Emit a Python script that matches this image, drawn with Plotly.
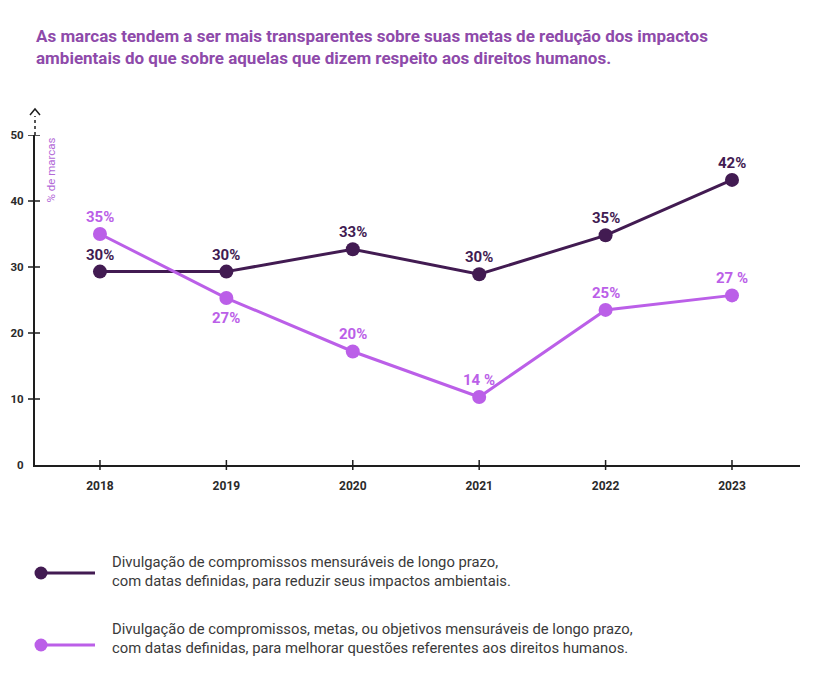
import plotly.graph_objects as go

years = [2018, 2019, 2020, 2021, 2022, 2023]
year_labels = ["2018", "2019", "2020", "2021", "2022", "2023"]
ambientais = [29.3, 29.3, 32.7, 28.9, 34.8, 43.2]
ambientais_labels = ["30%", "30%", "33%", "30%", "35%", "42%"]
direitos = [35.0, 25.3, 17.2, 10.3, 23.5, 25.7]
direitos_labels = ["35%", "27%", "20%", "14 %", "25%", "27 %"]
direitos_below = [False, True, False, False, False, False]
y_ticks = [0, 10, 20, 30, 40, 50]
legend_texts = [
    "Divulgação de compromissos mensuráveis de longo prazo,<br>"
    "com datas definidas, para reduzir seus impactos ambientais.",
    "Divulgação de compromissos, metas, ou objetivos mensuráveis de longo prazo,<br>"
    "com datas definidas, para melhorar questões referentes aos direitos humanos.",
]
title_text = ("As marcas tendem a ser mais transparentes sobre suas metas de redução dos impactos<br>"
              "ambientais do que sobre aquelas que dizem respeito aos direitos humanos.")

DARK = "#421B52"
LIGHT = "#BB5FE8"
TITLE_C = "#8E4AAA"
AXIS_C = "#1E1E1E"
BOLD_FONT = "Roboto, sans-serif"
TEXT_FONT = "Roboto, sans-serif"

# plot area in pixels (figure is placed with an 8px page offset)
W, H = 820, 684
L, R, T, B = 27, 28, 127, 227
PW = W - L - R
PH = H - T - B


def px_y(py_page):
    """page pixel y -> paper y"""
    return (8 + T + PH - py_page) / PH


def px_x(px_page):
    return (px_page - 8 - L) / PW


fig = go.Figure()
fig.add_trace(go.Scatter(
    x=years, y=ambientais, mode="lines+markers",
    line=dict(color=DARK, width=3), marker=dict(color=DARK, size=14),
    showlegend=False, cliponaxis=False, hoverinfo="skip"))
fig.add_trace(go.Scatter(
    x=years, y=direitos, mode="lines+markers",
    line=dict(color=LIGHT, width=3), marker=dict(color=LIGHT, size=14),
    showlegend=False, cliponaxis=False, hoverinfo="skip"))

annotations = []
for x, y, t in zip(years, ambientais, ambientais_labels):
    annotations.append(dict(x=x, y=y, xref="x", yref="y", text=t, showarrow=False,
                            yshift=17, font=dict(family=BOLD_FONT, size=15, color=DARK, weight="bold")))
for x, y, t, below in zip(years, direitos, direitos_labels, direitos_below):
    annotations.append(dict(x=x, y=y, xref="x", yref="y", text=t, showarrow=False,
                            yshift=-20 if below else 17,
                            font=dict(family=BOLD_FONT, size=15, color=LIGHT, weight="bold")))

shapes = []
for v in y_ticks[1:]:
    shapes.append(dict(type="line", xref="paper", xsizemode="pixel", xanchor=0,
                       x0=-7, x1=5, yref="y", y0=v, y1=v,
                       line=dict(color=AXIS_C, width=1.5)))
for yr in years:
    shapes.append(dict(type="line", xref="x", x0=yr, x1=yr, yref="paper",
                       ysizemode="pixel", yanchor=0, y0=-5, y1=5,
                       line=dict(color=AXIS_C, width=1.5)))
shapes.append(dict(type="line", xref="paper", x0=0, x1=0, yref="paper",
                   ysizemode="pixel", yanchor=1, y0=0, y1=19,
                   line=dict(color=AXIS_C, width=1.5, dash="dot")))
shapes.append(dict(type="path", xref="paper", xsizemode="pixel", xanchor=0,
                   yref="paper", ysizemode="pixel", yanchor=1,
                   path="M -5,20 L 0,26 L 5,20",
                   line=dict(color=AXIS_C, width=1.5)))

# manual legend
legend_marker_y = [573, 645]
legend_text_y = [571.5, 638.5]
for my, col, txt, ty in zip(legend_marker_y, [DARK, LIGHT], legend_texts, legend_text_y):
    yy = px_y(my)
    shapes.append(dict(type="line", xref="paper", x0=px_x(41), x1=px_x(95),
                       yref="paper", y0=yy, y1=yy, line=dict(color=col, width=3)))
    shapes.append(dict(type="circle", xref="paper", xsizemode="pixel", xanchor=px_x(41),
                       x0=-6.5, x1=6.5, yref="paper", ysizemode="pixel", yanchor=yy,
                       y0=-6.5, y1=6.5, fillcolor=col, line=dict(color=col, width=0)))
    annotations.append(dict(text=txt, xref="paper", yref="paper", x=px_x(110),
                            y=px_y(ty), xanchor="left", yanchor="middle", align="left",
                            showarrow=False,
                            font=dict(family=TEXT_FONT, size=14.8, color="#3A3A3A")))

annotations.append(dict(text=title_text, xref="paper", yref="paper", x=px_x(34),
                        y=px_y(47), xanchor="left", yanchor="middle", align="left",
                        showarrow=False,
                        font=dict(family=TEXT_FONT, size=17, color=TITLE_C, weight="bold")))

annotations.append(dict(text="% de marcas", xref="paper", yref="paper", x=px_x(50),
                        y=px_y(136), xanchor="center", yanchor="top", textangle=-90,
                        showarrow=False,
                        font=dict(family=TEXT_FONT, size=11.5, color="#B36AD8")))

fig.update_layout(
    width=W, height=H, autosize=False,
    margin=dict(l=L, r=R, t=T, b=B),
    plot_bgcolor="white", paper_bgcolor="white",
    shapes=shapes, annotations=annotations,
    xaxis=dict(range=[2017.486, 2023.538], tickvals=years, ticktext=year_labels,
               showgrid=False, zeroline=False, showline=True, linecolor=AXIS_C,
               linewidth=2, ticks="", ticklabelstandoff=9, automargin=False,
               tickfont=dict(family=BOLD_FONT, size=12, color="#2A2A2A", weight="bold")),
    yaxis=dict(range=[0, 50], tickvals=y_ticks, showgrid=False, zeroline=False,
               showline=True, linecolor=AXIS_C, linewidth=2, ticks="",
               ticklabelstandoff=7, automargin=False,
               tickfont=dict(family=BOLD_FONT, size=11.5, color="#2A2A2A", weight="bold")),
)

fig.write_html("out.html")
